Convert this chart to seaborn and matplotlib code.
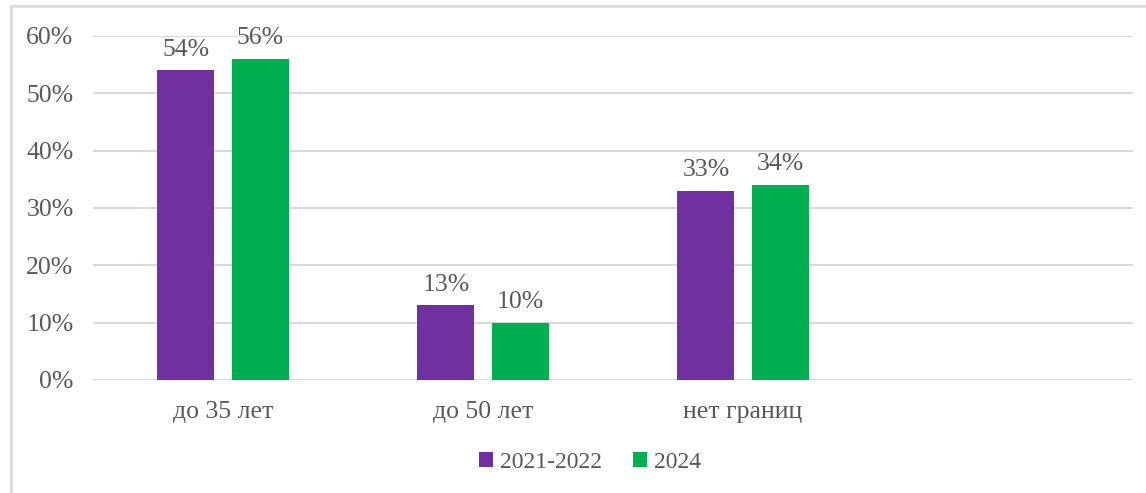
import numpy as np
import pandas as pd
import seaborn as sns
from matplotlib import pyplot as plt
from matplotlib.lines import Line2D

# data
categories = ["до 35 лет", "до 50 лет", "нет границ"]
series = ["2021-2022", "2024"]
values_2021 = [54, 13, 33]
values_2024 = [56, 10, 34]
colors = ["#7030A0", "#00B050"]

df = pd.DataFrame({
    "cat": categories * 2,
    "period": [series[0]] * 3 + [series[1]] * 3,
    "value": values_2021 + values_2024,
})

sns.set_theme(style="white")
plt.rcParams["font.family"] = ["Liberation Serif", "DejaVu Serif"]
text_col = "#595959"
fs = 18.5

fig = plt.figure(figsize=(11.46, 4.93), dpi=100)
ax = fig.add_axes([93 / 1146, 1 - 380 / 493, (1133 - 93) / 1146, (380 - 36) / 493])

order = categories + [" "]
sns.barplot(data=df, x="cat", y="value", hue="period", order=order,
            palette=colors, saturation=1, width=0.57, gap=0.23, linewidth=0,
            ax=ax, legend=True)

for cont in ax.containers:
    ax.bar_label(cont, labels=[f"{v:.0f}%" for v in cont.datavalues],
                 padding=7, fontsize=fs, color=text_col)

ax.set_ylim(0, 60)
ax.set_yticks(range(0, 61, 10))
ax.set_yticklabels([f"{t}%" for t in range(0, 61, 10)])
ax.set_xlim(-0.5, 3.5)
ax.set_xticks(range(4))
ax.set_xticklabels(categories + [""])
ax.tick_params(axis="both", labelsize=fs, colors=text_col, length=0)
ax.tick_params(axis="y", pad=14)
ax.tick_params(axis="x", pad=15)
ax.set_xlabel("")
ax.set_ylabel("")
ax.yaxis.grid(True, color="#D9D9D9", linewidth=1.5)
ax.set_axisbelow(True)
for s in ax.spines.values():
    s.set_visible(False)

handles, labels = ax.get_legend_handles_labels()
ax.legend(handles, labels, loc="center", bbox_to_anchor=(0.478, -0.24),
          ncol=2, frameon=False, fontsize=17, handlelength=0.6, handleheight=0.6,
          handletextpad=0.3, columnspacing=1.3, labelcolor=text_col)

# outer chart border
fig.add_artist(Line2D([11 / 1146, 11 / 1146], [0, 1 - 6 / 493], color="#D9D9D9",
                      linewidth=2, transform=fig.transFigure))
fig.add_artist(Line2D([11 / 1146, 1], [1 - 6 / 493, 1 - 6 / 493], color="#D9D9D9",
                      linewidth=2, transform=fig.transFigure))

fig.savefig("out.png", dpi=100, facecolor="white")
